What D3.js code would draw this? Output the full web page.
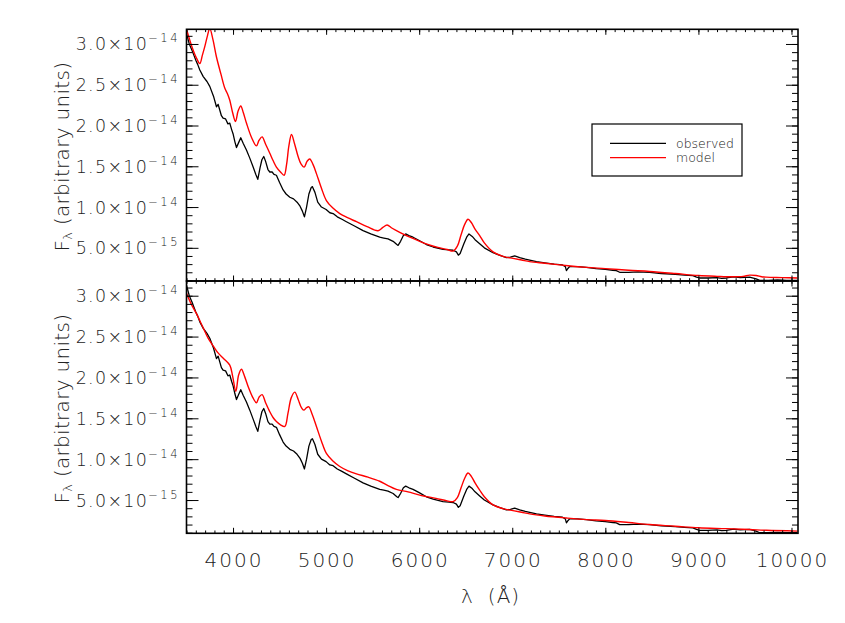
<!DOCTYPE html>
<html><head><meta charset="utf-8">
<script src="https://cdn.jsdelivr.net/npm/d3@7"></script>
<style>body{margin:0;background:#fff}svg text{font-family:"DejaVu Sans",sans-serif;font-weight:200;}</style>
</head><body><svg id="c" width="845" height="623"></svg>
<script>
// Flux values are in units of 1e-15 (arbitrary units)
const wavelengthObserved = [3500,3530,3560,3580,3600,3620,3643,3680,3720,3750,3790,3822,3840,3855,3875,3893,3920,3945,3965,3985,4000,4020,4037,4060,4083,4110,4144,4180,4216,4245,4266,4290,4310,4330,4350,4375,4395,4420,4440,4466,4500,4538,4570,4610,4650,4688,4720,4745,4767,4790,4815,4840,4853,4880,4910,4950,5000,5040,5075,5120,5170,5218,5300,5397,5480,5576,5620,5665,5720,5760,5773,5800,5830,5855,5890,5934,6000,6077,6150,6256,6320,6364,6400,6421,6440,6480,6510,6535,6570,6600,6650,6700,6793,6860,6937,6980,7026,7080,7140,7187,7260,7350,7450,7540,7570,7582,7600,7617,7700,7796,7900,8000,8080,8118,8154,8250,8350,8476,8600,8750,8850,8941,8980,9013,9100,9200,9250,9300,9380,9450,9550,9620,9658,9750,9850,9950,10063];
const fluxObserved = [31.3,30.0,29.2,28.6,28.0,27.5,26.8,26.0,25.4,24.8,23.6,22.3,22.6,22.0,21.2,20.9,20.8,20.2,20.3,19.5,19.0,18.0,17.3,17.9,18.5,17.8,17.0,16.0,14.9,14.0,13.4,14.8,15.8,16.2,15.6,14.6,14.3,14.3,14.0,13.9,13.0,12.1,11.6,11.2,11.0,10.6,10.1,9.5,8.8,10.0,11.6,12.4,12.5,11.8,10.6,10.0,9.7,9.3,9.2,8.8,8.5,8.2,7.7,7.1,6.7,6.3,6.2,6.1,5.8,5.4,5.3,5.8,6.5,6.7,6.5,6.3,5.9,5.4,5.1,4.8,4.75,4.7,4.5,4.1,4.3,5.5,6.3,6.7,6.4,6.0,5.5,5.0,4.4,4.1,3.8,3.85,4.0,3.8,3.6,3.5,3.3,3.15,3.0,2.9,2.7,2.2,2.5,2.7,2.7,2.6,2.45,2.35,2.25,2.2,2.0,2.0,2.05,2.0,1.85,1.75,1.65,1.6,1.4,1.3,1.3,1.35,1.25,1.3,1.45,1.35,1.4,1.2,1.0,1.0,1.05,1.0,1.0];

const wavelengthModelTop = [3500,3560,3610,3643,3670,3697,3725,3750,3785,3822,3870,3911,3940,3965,3995,4026,4055,4083,4110,4144,4200,4251,4280,4312,4350,4395,4430,4466,4510,4549,4575,4600,4628,4660,4699,4730,4764,4795,4824,4860,4896,4950,5003,5070,5147,5230,5326,5440,5558,5610,5655,5710,5791,5900,6006,6100,6200,6300,6364,6410,6450,6490,6525,6560,6600,6650,6700,6793,6900,7008,7100,7187,7350,7600,7800,8000,8250,8476,8750,9000,9200,9370,9480,9550,9620,9680,9730,9900,10063];
const fluxModelTop = [31.8,29.6,28.2,27.6,28.6,29.7,31.0,31.9,30.5,28.4,26.3,24.6,23.9,23.1,21.6,20.5,21.8,22.4,21.6,20.3,18.5,17.5,18.2,18.6,17.7,16.6,15.7,14.9,14.3,13.9,15.2,17.5,18.9,17.8,16.2,15.3,14.9,15.6,15.9,15.2,14.1,12.3,10.8,9.9,9.2,8.7,8.2,7.6,7.1,7.5,7.8,7.4,6.9,6.3,5.8,5.4,5.05,4.8,4.6,5.2,6.6,7.9,8.5,8.1,7.3,6.5,5.6,4.5,3.95,3.7,3.5,3.3,3.1,2.8,2.6,2.45,2.25,2.1,1.85,1.6,1.5,1.45,1.5,1.65,1.6,1.45,1.4,1.35,1.3];

const wavelengthModelBottom = [3500,3550,3607,3670,3732,3790,3839,3900,3965,3995,4030,4060,4090,4125,4162,4210,4251,4280,4312,4350,4395,4430,4466,4510,4556,4590,4625,4663,4700,4735,4760,4790,4814,4850,4896,4950,5003,5070,5147,5230,5326,5450,5576,5660,5755,5880,6006,6180,6300,6364,6410,6450,6490,6525,6560,6600,6650,6700,6793,6900,7008,7100,7187,7350,7580,7800,8000,8250,8476,8750,9000,9300,9550,9730,10063];
const fluxModelBottom = [30.3,29.0,27.8,26.3,24.8,23.8,23.0,22.3,21.5,20.2,18.3,20.3,21.0,20.1,18.9,17.6,16.9,17.6,17.9,16.9,15.8,15.1,14.6,14.2,14.0,15.6,17.5,18.2,17.3,16.3,16.0,16.3,16.4,15.5,14.0,12.2,10.7,9.8,9.1,8.6,8.2,7.8,7.3,6.8,6.3,6.0,5.6,5.2,4.9,4.8,5.3,6.5,7.7,8.3,7.9,7.1,6.2,5.4,4.4,3.95,3.7,3.5,3.3,3.05,2.8,2.6,2.5,2.25,2.0,1.8,1.6,1.5,1.4,1.3,1.2];

const xTickValues = [4000,5000,6000,7000,8000,9000,10000];
const xTickLabels = ["4000","5000","6000","7000","8000","9000","10000"];
const yTickValues = [5,10,15,20,25,30];
const yTickMantissa = ["5.0","1.0","1.5","2.0","2.5","3.0"];
const yTickExponent = ["−15","−14","−14","−14","−14","−14"];
const legendLabels = ["observed","model"];
const seriesColors = ["#000000","#ff0000"];

const svg = d3.select("#c");
const X0 = 186.5, X1 = 798;
const x = d3.scaleLinear().domain([3500, 10070]).range([X0, X1]);
const yDomain = [0.93, 31.8];
const xMinor = d3.range(3500, 10070, 100);
const yMinor = d3.range(1, 32, 1);
const textColor = "#222";

const panels = [
  {top: 29.3, bottom: 281, model: [wavelengthModelTop, fluxModelTop], legend: true},
  {top: 281, bottom: 533.3, model: [wavelengthModelBottom, fluxModelBottom], legend: false, xlabels: true}
];

panels.forEach((p, i) => {
  const y = d3.scaleLinear().domain(yDomain).range([p.bottom, p.top]);
  const g = svg.append("g");
  const clipId = "clip" + i;
  svg.append("clipPath").attr("id", clipId).append("rect")
    .attr("x", X0).attr("y", p.top).attr("width", X1 - X0).attr("height", p.bottom - p.top);

  const line = d3.line().x(d => x(d[0])).y(d => y(d[1]));
  const obs = wavelengthObserved.map((w, k) => [w, fluxObserved[k]]);
  const mod = p.model[0].map((w, k) => [w, p.model[1][k]]);
  const lg = g.append("g").attr("clip-path", `url(#${clipId})`);
  lg.append("path").datum(obs).attr("d", line.curve(d3.curveLinear))
    .attr("fill", "none").attr("stroke", seriesColors[0]).attr("stroke-width", 1.3).attr("stroke-linejoin", "round");
  lg.append("path").datum(mod).attr("d", line.curve(d3.curveCatmullRom.alpha(0.5)))
    .attr("fill", "none").attr("stroke", seriesColors[1]).attr("stroke-width", 1.4).attr("stroke-linejoin", "round");

  // axes (inward ticks)
  const mk = (axis, sel) => { sel.call(axis); sel.select(".domain").remove(); sel.selectAll("line").attr("stroke", "#000").attr("stroke-width", 1); };
  const yMaj = (a) => a.tickValues(yTickValues).tickFormat("");
  const yMin = (a) => a.tickValues(yMinor).tickFormat("");
  const xMaj = (a) => a.tickValues(xTickValues).tickFormat("");
  const xMin = (a) => a.tickValues(xMinor).tickFormat("");
  mk(yMaj(d3.axisLeft(y).tickSize(-12)), g.append("g").attr("transform", `translate(${X0},0)`));
  mk(yMin(d3.axisLeft(y).tickSize(-6)), g.append("g").attr("transform", `translate(${X0},0)`));
  mk(yMaj(d3.axisRight(y).tickSize(-12)), g.append("g").attr("transform", `translate(${X1},0)`));
  mk(yMin(d3.axisRight(y).tickSize(-6)), g.append("g").attr("transform", `translate(${X1},0)`));
  mk(xMaj(d3.axisTop(x).tickSize(-5.5)), g.append("g").attr("transform", `translate(0,${p.top})`));
  mk(xMin(d3.axisTop(x).tickSize(-2.8)), g.append("g").attr("transform", `translate(0,${p.top})`));
  mk(xMaj(d3.axisBottom(x).tickSize(-5.5)), g.append("g").attr("transform", `translate(0,${p.bottom})`));
  mk(xMin(d3.axisBottom(x).tickSize(-2.8)), g.append("g").attr("transform", `translate(0,${p.bottom})`));

  g.append("rect").attr("x", X0).attr("y", p.top).attr("width", X1 - X0).attr("height", p.bottom - p.top)
    .attr("fill", "none").attr("stroke", "#000").attr("stroke-width", 1.6);

  // y tick labels
  yTickValues.forEach((v, k) => {
    const t = g.append("text").attr("x", 180).attr("y", y(v) + 6.5)
      .attr("text-anchor", "end").attr("fill", textColor).style("font-size", "17.5px").style("letter-spacing", "1.3px");
    t.append("tspan").text(yTickMantissa[k] + "×10");
    t.append("tspan").attr("dy", -8).style("font-size", "11.5px").style("letter-spacing", "2.5px").text(yTickExponent[k]);
  });

  // y title
  const yc = (p.top + p.bottom) / 2 + 1.5;
  const tt = g.append("text").attr("transform", `translate(69,${yc}) rotate(-90)`)
    .attr("text-anchor", "middle").attr("fill", textColor).style("font-size", "20px").style("letter-spacing", "0.3px");
  tt.append("tspan").text("F");
  tt.append("tspan").attr("dy", 3).style("font-size", "13px").text("λ");
  tt.append("tspan").attr("dy", -3).text(" (arbitrary units)");

  if (p.xlabels) {
    xTickValues.forEach((v, k) => {
      g.append("text").attr("x", x(v) + 1).attr("y", 567).attr("text-anchor", "middle")
        .attr("fill", textColor).style("font-size", "20px").style("letter-spacing", "2px").text(xTickLabels[k]);
    });
    g.append("text").attr("x", 467).attr("y", 603).attr("text-anchor", "middle").attr("fill", textColor).style("font-size", "20px").text("λ");
    g.append("text").attr("x", 504).attr("y", 603).attr("text-anchor", "middle").attr("fill", textColor).style("font-size", "20px").style("letter-spacing", "1px").text("(Å)");
  }

  if (p.legend) {
    const lgd = g.append("g");
    lgd.append("rect").attr("x", 592).attr("y", 124).attr("width", 150).attr("height", 52)
      .attr("fill", "#fff").attr("stroke", "#000").attr("stroke-width", 1.2);
    legendLabels.forEach((lab, k) => {
      const ly = 143.3 + k * 14.4;
      lgd.append("line").attr("x1", 610).attr("x2", 666).attr("y1", ly).attr("y2", ly)
        .attr("stroke", seriesColors[k]).attr("stroke-width", 1.2);
      lgd.append("text").attr("x", 676).attr("y", ly + 4.2).attr("fill", "#111")
        .style("font-size", "12.5px").style("font-weight", "300").text(lab);
    });
  }
});
</script></body></html>
